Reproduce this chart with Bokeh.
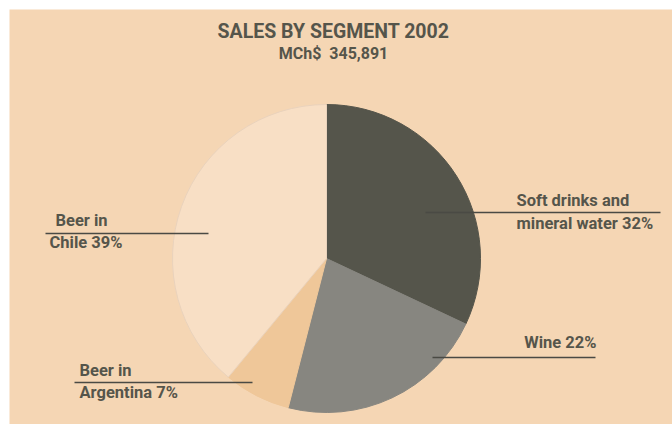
import math
from bokeh.plotting import figure
from bokeh.models import Range1d, ColumnDataSource
from bokeh.core.properties import value
from bokeh.embed import file_html
from bokeh.resources import INLINE

# ---- data ----
title = "SALES BY SEGMENT 2002"
subtitle = "MCh$\u00a0\u00a0345,891"
segments = ["Soft drinks and mineral water", "Wine", "Beer in Argentina", "Beer in Chile"]
shares = [32, 22, 7, 39]
label_top = ["Soft drinks and", "", "Beer in", "Beer in"]
label_bottom = ["mineral water", "Wine", "Argentina", "Chile"]
colors = ["#55554B", "#878680", "#EFC799", "#F8DFC5"]
edge_colors = ["#55554B", "#878680", "#EFC799", "#E9D2BC"]

# ---- layout: data units equal screen pixels ----
W, H = 672, 424
LEFT, TOP = 9, 9
BG = "#F5D6B4"
TXT = "#55554B"
FONT = "Roboto"
DY = 7  # baseline correction for svg text

cx, cy, r = 326, 166, 154

total = sum(shares)
starts, ends = [], []
acc = 0.0
for s in shares:
    a0 = math.pi / 2 - 2 * math.pi * acc / total
    acc += s
    a1 = math.pi / 2 - 2 * math.pi * acc / total
    starts.append(a0)
    ends.append(a1)

p = figure(width=W - LEFT, height=H - TOP, output_backend="svg", toolbar_location=None,
           x_range=Range1d(LEFT, W), y_range=Range1d(0, H - TOP),
           min_border=0, margin=(TOP, 0, 0, LEFT),
           background_fill_color=BG, border_fill_color=BG,
           outline_line_color=None)
p.axis.visible = False
p.grid.visible = False

src = ColumnDataSource(dict(seg=segments, share=shares, start=starts, end=ends,
                            color=colors, edge=edge_colors))
p.wedge(x=cx, y=cy, radius=r, start_angle="start", end_angle="end", direction="clock",
        fill_color="color", line_color="edge", line_width=1, source=src)

# title
p.text(x=[333], y=[386 + DY], text=[title], text_font=value(FONT), text_font_size="19.5px",
       text_color=TXT, text_align="center", text_baseline="alphabetic", text_font_style="bold")
p.text(x=[333], y=[364 + DY], text=[subtitle], text_font=value(FONT), text_font_size="16px",
       text_color=TXT, text_align="center", text_baseline="alphabetic", text_font_style="bold")

# label placement (x top, x bottom, top baseline y, bottom baseline y, align, leader x0, x1, y)
place = [
    (516, 516, 217, 194, "left", 425, 660, 212),
    (596, 596, None, 75, "right", 432, 595, 67),
    (79, 79, 47, 25, "left", 74, 252, 42),
    (55, 49, 197, 175, "left", 45, 208, 191),
]
for i, (xt, xb, ytop, ybot, al, x0, x1, ly) in enumerate(place):
    if label_top[i]:
        p.text(x=[xt], y=[ytop + DY], text=[label_top[i]], text_font=value(FONT),
               text_font_size="16.5px", text_color=TXT, text_align=al, text_baseline="alphabetic",
               text_font_style="bold")
    p.text(x=[xb], y=[ybot + DY], text=[f"{label_bottom[i]} {shares[i]}%"], text_font=value(FONT),
           text_font_size="16.5px", text_color=TXT, text_align=al, text_baseline="alphabetic",
           text_font_style="bold")
    p.segment(x0=[x0], y0=[ly], x1=[x1], y1=[ly], line_color="#4A4A44", line_width=1.5)

open("out.html", "w").write(file_html(p, INLINE))
